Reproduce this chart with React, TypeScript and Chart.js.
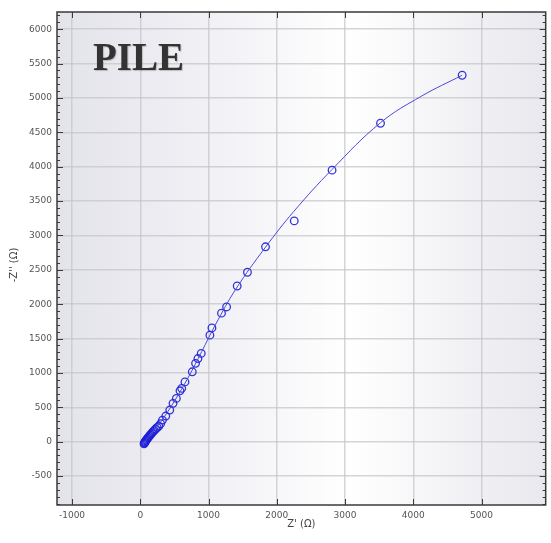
import React, { useEffect, useRef } from "react";
import { Chart, registerables } from "chart.js";

Chart.register(...registerables);

// Measured impedance points (Ohm)
const zReal = [55, 60, 66, 72, 80, 88, 97, 107, 118, 130, 143, 157, 172, 188, 205, 225, 248, 272, 298, 325, 374, 432, 480, 529, 582, 607, 655, 762, 810, 845, 893, 1020, 1050, 1190, 1265, 1420, 1570, 1835, 2256, 2810, 3520, 4716];
const zImag = [-30, -20, -10, 0, 12, 24, 37, 50, 64, 79, 95, 111, 128, 146, 165, 185, 207, 228, 262, 315, 374, 461, 558, 630, 741, 776, 870, 1017, 1140, 1210, 1285, 1550, 1655, 1870, 1960, 2265, 2465, 2835, 3212, 3950, 4632, 5330];

// Fitted curve
const fitReal = [50, 150, 300, 500, 700, 900, 1100, 1400, 1835, 2250, 2810, 3520, 4118, 4716];
const fitImag = [-25, 110, 290, 590, 930, 1310, 1700, 2220, 2830, 3350, 3960, 4640, 5025, 5330];

const xTicks = [-1000, 0, 1000, 2000, 3000, 4000, 5000];
const yTicks = [-500, 0, 500, 1000, 1500, 2000, 2500, 3000, 3500, 4000, 4500, 5000, 5500, 6000];
const yMinorStep = 100;
const xMin = -1220;
const xMax = 5940;
const yMin = -920;
const yMax = 6250;

const chartTitle = "PILE";
const xTitle = "Z' (Ω)";
const yTitle = "-Z'' (Ω)";

const frameColor = "#3a3a3a";
const tickFont = "DejaVu Sans";

const decorPlugin = {
  id: "decor",
  beforeDraw(chart: any) {
    const { ctx, chartArea: a } = chart;
    ctx.save();
    const g = ctx.createLinearGradient(a.left, 0, a.right, 0);
    g.addColorStop(0, "#e3e3ea");
    g.addColorStop(0.3, "#f0f0f5");
    g.addColorStop(0.6, "#ffffff");
    g.addColorStop(1, "#e8e8ee");
    ctx.fillStyle = g;
    ctx.fillRect(a.left, a.top, a.right - a.left, a.bottom - a.top);
    ctx.restore();
  },
  afterDraw(chart: any) {
    const { ctx, chartArea: a } = chart;
    const xs = chart.scales.x;
    const ys = chart.scales.y;
    ctx.save();
    ctx.strokeStyle = frameColor;
    ctx.lineWidth = 1;
    ctx.beginPath();
    for (const v of xTicks) {
      const px = Math.round(xs.getPixelForValue(v)) + 0.5;
      ctx.moveTo(px, a.bottom);
      ctx.lineTo(px, a.bottom - 6);
      ctx.moveTo(px, a.top);
      ctx.lineTo(px, a.top + 6);
    }
    const start = Math.ceil(yMin / yMinorStep) * yMinorStep;
    for (let v = start; v <= yMax; v += yMinorStep) {
      const major = v % 500 === 0;
      const len = major ? 6 : 3;
      const py = Math.round(ys.getPixelForValue(v)) + 0.5;
      ctx.moveTo(a.left, py);
      ctx.lineTo(a.left + len, py);
      ctx.moveTo(a.right, py);
      ctx.lineTo(a.right - len, py);
    }
    ctx.stroke();
    ctx.lineWidth = 1.5;
    ctx.strokeRect(a.left, a.top, a.right - a.left, a.bottom - a.top);

    ctx.fillStyle = "#444";
    ctx.font = `10px "${tickFont}"`;
    ctx.textAlign = "center";
    ctx.textBaseline = "middle";
    ctx.fillText(xTitle, (a.left + a.right) / 2, 524);
    ctx.save();
    ctx.translate(14, 265);
    ctx.rotate(-Math.PI / 2);
    ctx.fillText(yTitle, 0, 0);
    ctx.restore();

    ctx.font = `bold 39px "Liberation Serif"`;
    ctx.textAlign = "left";
    ctx.textBaseline = "alphabetic";
    ctx.fillStyle = "#333";
    ctx.shadowColor = "rgba(0,0,0,0.2)";
    ctx.shadowOffsetX = 1;
    ctx.shadowOffsetY = 1;
    ctx.shadowBlur = 1;
    ctx.fillText(chartTitle, 93, 70);
    ctx.restore();
  },
};

export default function App() {
  const ref = useRef<HTMLCanvasElement | null>(null);
  useEffect(() => {
    document.body.style.margin = "0";
    const canvas = ref.current!;
    const points = zReal.map((x, i) => ({ x, y: zImag[i] }));
    const fit = fitReal.map((x, i) => ({ x, y: fitImag[i] }));
    const chart = new Chart(canvas, {
      type: "scatter",
      data: {
        datasets: [
          {
            label: "fit",
            data: fit,
            showLine: true,
            borderColor: "#4a4adc",
            borderWidth: 1,
            pointRadius: 0,
            tension: 0.4,
            fill: false,
          },
          {
            label: "data",
            data: points,
            showLine: false,
            pointStyle: "circle",
            pointRadius: 3.8,
            pointBorderWidth: 1.3,
            pointBorderColor: "rgba(30,30,215,0.9)",
            pointBackgroundColor: "rgba(0,0,0,0)",
          },
        ],
      },
      options: {
        responsive: false,
        animation: false,
        devicePixelRatio: 1,
        layout: { padding: { top: 12, right: 2, left: 0, bottom: 0 } },
        plugins: { legend: { display: false }, tooltip: { enabled: false } },
        scales: {
          x: {
            type: "linear",
            min: xMin,
            max: xMax,
            afterBuildTicks: (s: any) => {
              s.ticks = xTicks.map((v) => ({ value: v }));
            },
            afterFit: (s: any) => {
              s.height = 38;
            },
            grid: { color: "rgba(195,195,200,0.7)", lineWidth: 1.5, drawTicks: false },
            border: { display: false },
            ticks: {
              padding: 5,
              color: "#555",
              font: { family: tickFont, size: 9 },
              maxRotation: 0,
              autoSkip: false,
              callback: (v: any) => String(v),
            },
          },
          y: {
            type: "linear",
            min: yMin,
            max: yMax,
            afterBuildTicks: (s: any) => {
              s.ticks = yTicks.map((v) => ({ value: v }));
            },
            afterFit: (s: any) => {
              s.width = 57;
            },
            grid: { color: "rgba(195,195,200,0.7)", lineWidth: 1.5, drawTicks: false },
            border: { display: false },
            ticks: {
              padding: 5,
              color: "#555",
              font: { family: tickFont, size: 9 },
              autoSkip: false,
              callback: (v: any) => String(v),
            },
          },
        },
      },
      plugins: [decorPlugin],
    } as any);
    return () => chart.destroy();
  }, []);
  return <canvas ref={ref} width={551} height={543} style={{ display: "block" }} />;
}
